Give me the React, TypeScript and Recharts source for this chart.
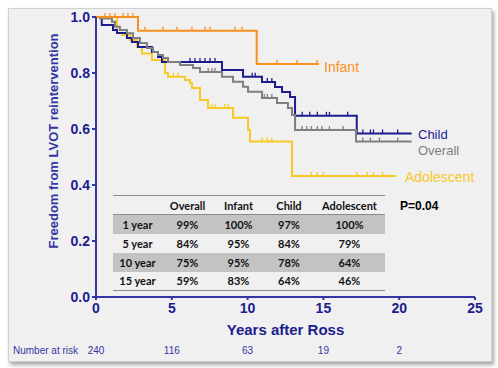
import { LineChart, Line, XAxis, YAxis } from "recharts";

// Kaplan-Meier steps: [years, freedom]
const overallSteps = [
  [0, 1.0], [0.26, 0.995], [1.05, 0.983], [1.25, 0.965], [1.58, 0.954], [2.04, 0.942],
  [2.44, 0.925], [2.9, 0.907], [3.36, 0.889], [3.76, 0.875], [4.09, 0.864], [4.42, 0.854],
  [4.75, 0.839], [5.54, 0.829], [6.4, 0.818], [6.86, 0.804], [8.31, 0.787], [9.04, 0.769],
  [9.7, 0.751], [10.03, 0.733], [10.95, 0.711], [11.94, 0.693], [12.66, 0.675], [12.93, 0.65],
  [13.13, 0.596], [17.15, 0.555], [20.82, 0.555],
];
const infantSteps = [[0, 1.0], [2.77, 0.951], [10.6, 0.832], [14.7, 0.832]];
const childSteps = [
  [0, 1.0], [0.38, 0.971], [1.12, 0.954], [1.39, 0.943], [2.04, 0.925], [2.37, 0.911],
  [2.77, 0.893], [3.69, 0.875], [4.09, 0.857], [4.35, 0.839], [8.31, 0.811], [9.7, 0.787],
  [10.95, 0.768], [11.81, 0.75], [12.27, 0.732], [12.8, 0.714], [13.13, 0.647],
  [17.2, 0.584], [20.82, 0.584],
];
const adolescentSteps = [
  [0, 1.0], [1.38, 0.943], [1.72, 0.936], [2.24, 0.918], [2.7, 0.893], [3.03, 0.87],
  [3.69, 0.846], [4.55, 0.8], [4.75, 0.787], [5.87, 0.775], [6.2, 0.764], [6.33, 0.746],
  [6.86, 0.704], [7.39, 0.675], [9.04, 0.64], [10.03, 0.596], [10.16, 0.555],
  [12.93, 0.432], [19.8, 0.432],
];

// censored times (tick marks)
const overallCensor = [7.4, 7.65, 7.85, 11.1, 11.3, 11.6, 13.6, 13.9, 14.2, 14.6, 14.9, 15.4, 16.3, 17.6, 18.1, 18.7, 19.9];
const infantCensor = [0.59, 0.92, 1.25, 1.78, 2.11, 2.44, 3.23, 4.42, 5.34, 6.33, 7.19, 7.52, 9.17, 9.63, 11.94, 13.26, 14.58];
const childCensor = [6.2, 6.53, 6.86, 7.19, 7.52, 7.85, 10.3, 10.5, 11.3, 11.6, 13.6, 14.1, 14.6, 15.2, 15.4, 16.6, 17.6, 18.1, 18.3, 18.9, 19.9];
const adolescentCensor = [5.1, 5.4, 7.65, 7.85, 8.5, 8.7, 10.95, 11.3, 11.6, 14.2, 14.6, 15.0, 17.2, 17.9, 18.3, 18.9];

const xTicks = [0, 5, 10, 15, 20, 25];
const yTicks = [0, 0.2, 0.4, 0.6, 0.8, 1.0];
const atRisk = [240, 116, 63, 19, 2];

const tableHead = ["", "Overall", "Infant", "Child", "Adolescent"];
const tableRows = ["1 year", "5 year", "10 year", "15 year"];
const overallPct = ["99%", "84%", "75%", "59%"];
const infantPct = ["100%", "95%", "95%", "83%"];
const childPct = ["97%", "84%", "78%", "64%"];
const adolescentPct = ["100%", "79%", "64%", "46%"];

const NAVY = "#1c1c8e";
const AXIS = "#3535a3";
const GRAY = "#7f7f7f";
const ORANGE = "#f7901e";
const YELLOW = "#f6c924";

function build(steps: number[][], censor: number[]) {
  const stepAt = (t: number) => {
    let s = steps[0][1];
    for (const [st, sv] of steps) if (st <= t) s = sv;
    return s;
  };
  const pts = steps.map(([t, s]) => ({ t, s, c: false }));
  censor.forEach((t) => pts.push({ t, s: stepAt(t), c: true }));
  return pts.sort((a, b) => a.t - b.t);
}

const overallData = build(overallSteps, overallCensor);
const infantData = build(infantSteps, infantCensor);
const childData = build(childSteps, childCensor);
const adolescentData = build(adolescentSteps, adolescentCensor);

const tickDot = (color: string) => (props: any) => {
  const { cx, cy, payload, index } = props;
  if (!payload || !payload.c) return <g key={index} />;
  return <line key={index} x1={cx} x2={cx} y1={cy} y2={cy - 4} stroke={color} strokeWidth={1.3} />;
};

const XTick = (props: any) => {
  const { x, y, payload } = props;
  const i = xTicks.indexOf(payload.value);
  return (
    <g>
      <text x={x} y={y + 11} textAnchor="middle" fill={NAVY} fontSize={14} fontWeight="bold" fontFamily="Liberation Sans, Arial">
        {payload.value}
      </text>
      {i === 0 && (
        <text x={13} y={354} fill={AXIS} fontSize={10} fontFamily="Liberation Sans, Arial">
          Number at risk
        </text>
      )}
      {atRisk[i] != null && (
        <text x={x} y={354} textAnchor="middle" fill={AXIS} fontSize={10} fontFamily="Liberation Sans, Arial">
          {atRisk[i]}
        </text>
      )}
    </g>
  );
};

const labelStyle = (left: number, top: number, color: string, size = 14): React.CSSProperties => ({
  position: "absolute",
  left,
  top,
  color,
  fontSize: size,
  lineHeight: "12px",
  height: 12,
  fontFamily: "Liberation Sans, Arial",
  whiteSpace: "nowrap",
});

const colW = [49, 51, 51, 50, 71];

export default function App() {
  return (
    <div style={{ position: "absolute", left: 0, top: 0, width: 498, height: 368, background: "#fff" }}>
      <div
        style={{
          position: "absolute",
          left: 8,
          top: 8,
          width: 482,
          height: 352,
          background: "#f0f0f0",
          border: "1px solid #d0d0d0",
          boxShadow: "2px 3px 4px rgba(0,0,0,0.35)",
        }}
      />
      <div style={{ position: "absolute", left: 0, top: 0 }}>
        <LineChart width={498} height={368} margin={{ top: 17, right: 23, bottom: 11, left: 56 }}>
          <XAxis
            type="number"
            dataKey="t"
            domain={[0, 25]}
            ticks={xTicks}
            allowDuplicatedCategory={false}
            height={60}
            stroke={AXIS}
            strokeWidth={2}
            tickSize={3}
            tick={<XTick />}
            label={{
              content: ({ viewBox }: any) => (
                <text
                  x={viewBox.x + viewBox.width / 2}
                  y={335}
                  textAnchor="middle"
                  fill={NAVY}
                  fontSize={15}
                  fontWeight="bold"
                  fontFamily="Liberation Sans, Arial"
                >
                  Years after Ross
                </text>
              ),
            }}
          />
          <YAxis
            type="number"
            domain={[0, 1]}
            ticks={yTicks}
            width={40}
            stroke={AXIS}
            strokeWidth={2}
            tickSize={4}
            tickFormatter={(v: number) => v.toFixed(1)}
            tick={{ fill: NAVY, fontSize: 14, fontWeight: "bold", fontFamily: "Liberation Sans, Arial" }}
            label={{
              content: () => (
                <text
                  transform="translate(58,141) rotate(-90)"
                  textAnchor="middle"
                  fill={AXIS}
                  fontSize={13}
                  fontWeight="bold"
                  fontFamily="Liberation Sans, Arial"
                >
                  Freedom from LVOT reintervention
                </text>
              ),
            }}
          />
          <Line data={adolescentData} dataKey="s" type="stepAfter" stroke={YELLOW} strokeWidth={2} dot={tickDot(YELLOW)} isAnimationActive={false} />
          <Line data={childData} dataKey="s" type="stepAfter" stroke={NAVY} strokeWidth={2} dot={tickDot(NAVY)} isAnimationActive={false} />
          <Line data={overallData} dataKey="s" type="stepAfter" stroke={GRAY} strokeWidth={2} dot={tickDot(GRAY)} isAnimationActive={false} />
          <Line data={infantData} dataKey="s" type="stepAfter" stroke={ORANGE} strokeWidth={2} dot={tickDot(ORANGE)} isAnimationActive={false} />
        </LineChart>
      </div>

      <span style={labelStyle(324, 61, ORANGE)}>Infant</span>
      <span style={labelStyle(418, 129, NAVY, 13)}>Child</span>
      <span style={labelStyle(418, 145, GRAY, 13)}>Overall</span>
      <span style={labelStyle(405, 171, YELLOW)}>Adolescent</span>
      <span
        style={{
          position: "absolute",
          left: 400,
          top: 199,
          fontSize: 12,
          fontWeight: "bold",
          fontFamily: "Liberation Sans, Arial",
          color: "#000",
        }}
      >
        P=0.04
      </span>

      <table
        style={{
          position: "absolute",
          left: 113,
          top: 195,
          width: 272,
          borderCollapse: "collapse",
          borderTop: "1px solid #8a8a8a",
          borderBottom: "1px solid #8a8a8a",
          fontFamily: "Lato, sans-serif",
          fontWeight: "bold",
          fontSize: 11,
          color: "#111",
          tableLayout: "fixed",
        }}
      >
        <colgroup>
          {colW.map((w, i) => (
            <col key={i} style={{ width: w }} />
          ))}
        </colgroup>
        <tbody>
          <tr style={{ height: 19, borderBottom: "1px solid #8a8a8a" }}>
            {tableHead.map((h, i) => (
              <td key={i} style={{ textAlign: "center", padding: 0 }}>
                {h}
              </td>
            ))}
          </tr>
          {tableRows.map((r, i) => (
            <tr key={r} style={{ height: 19, background: i % 2 === 0 ? "#c3c3c3" : "transparent" }}>
              {[r, overallPct[i], infantPct[i], childPct[i], adolescentPct[i]].map((v, j) => (
                <td key={j} style={{ textAlign: "center", padding: 0 }}>
                  {v}
                </td>
              ))}
            </tr>
          ))}
        </tbody>
      </table>
    </div>
  );
}
